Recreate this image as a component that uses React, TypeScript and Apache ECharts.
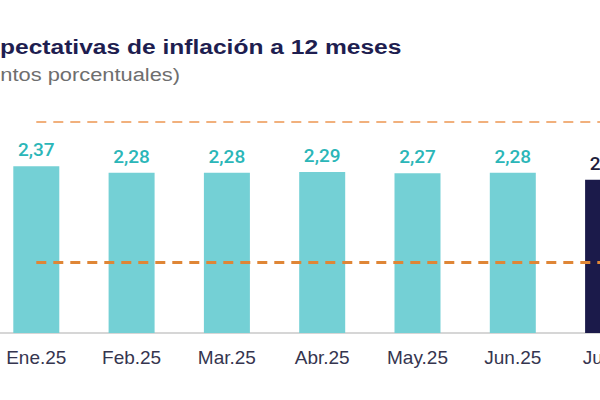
import React, { useEffect, useRef } from "react";
import * as echarts from "echarts";

const categories = ["Ene.25", "Feb.25", "Mar.25", "Abr.25", "May.25", "Jun.25", "Jul.25"];
const values = [2.37, 2.28, 2.28, 2.29, 2.27, 2.28, 2.18];
const targetLow = 1;
const targetHigh = 3;
const titleText = "Expectativas de inflación a 12 meses";
const subtitleText = "(En puntos porcentuales)";

const SHIFT = 80; // chart is shifted left so the picture is cropped like the reference
const CHART_W = 766;

export default function App() {
  const ref = useRef<HTMLDivElement>(null);
  useEffect(() => {
    if (!ref.current) return;
    const chart = echarts.init(ref.current, undefined, { renderer: "svg" });
    const teal = "#74D0D5";
    const navy = "#1B1A4A";
    chart.setOption({
      animation: false,
      backgroundColor: "#ffffff",
      graphic: [
        {
          type: "text",
          x: SHIFT - 30,
          y: 47,
          scaleX: 1.17,
          style: {
            text: titleText,
            fontFamily: "Liberation Sans, Arial, sans-serif",
            fontWeight: "bold",
            fontSize: 21,
            fill: "#1E1E50",
            verticalAlign: "middle",
          },
        },
        {
          type: "text",
          x: SHIFT - 64,
          y: 74,
          scaleX: 1.15,
          style: {
            text: subtitleText,
            fontFamily: "Liberation Sans, Arial, sans-serif",
            fontSize: 19,
            fill: "#6E6E6E",
            verticalAlign: "middle",
          },
        },
      ],
      grid: {
        left: SHIFT + 36.3 - 47.65,
        right: CHART_W - (SHIFT + 36.3 - 47.65) - 7 * 95.3,
        top: 122,
        bottom: 67,
        containLabel: false,
      },
      xAxis: {
        type: "category",
        data: categories,
        axisTick: { show: false },
        axisLine: { lineStyle: { color: "#C8C8C8", width: 1.5 } },
        axisLabel: {
          color: "#35354F",
          fontFamily: "Liberation Sans, Arial, sans-serif",
          fontSize: 19,
          margin: 15,
        },
      },
      yAxis: {
        type: "value",
        min: 0,
        max: 3,
        show: false,
        splitLine: { show: false },
      },
      series: [
        {
          type: "bar",
          barWidth: 46,
          data: values.map((v, i) => ({
            value: v,
            itemStyle: { color: i === values.length - 1 ? navy : teal },
            label: { color: i === values.length - 1 ? "#1E1E3C" : "#2BB6B8" },
          })),
          label: {
            show: true,
            position: "top",
            distance: 7,
            fontFamily: "Roboto, sans-serif",
            fontWeight: 500,
            fontSize: 19,
            formatter: (p: any) => p.value.toFixed(2).replace(".", ","),
          },
          markLine: {
            symbol: "none",
            silent: true,
            label: { show: false },
            data: [
              [
                { xAxis: categories[0], yAxis: targetHigh, lineStyle: { color: "#F1B07C", width: 2, type: [10, 7] } },
                { xAxis: categories[categories.length - 1], yAxis: targetHigh },
              ],
              [
                { xAxis: categories[0], yAxis: targetLow, lineStyle: { color: "#DF8636", width: 3, type: [10, 7] } },
                { xAxis: categories[categories.length - 1], yAxis: targetLow },
              ],
            ],
          },
        },
      ],
    });
    return () => chart.dispose();
  }, []);
  return (
    <div
      style={{
        position: "fixed",
        left: 0,
        top: 0,
        width: 600,
        height: 400,
        overflow: "hidden",
        background: "#fff",
      }}
    >
      <div
        ref={ref}
        style={{ position: "absolute", left: -SHIFT, top: 0, width: CHART_W, height: 400 }}
      />
    </div>
  );
}
